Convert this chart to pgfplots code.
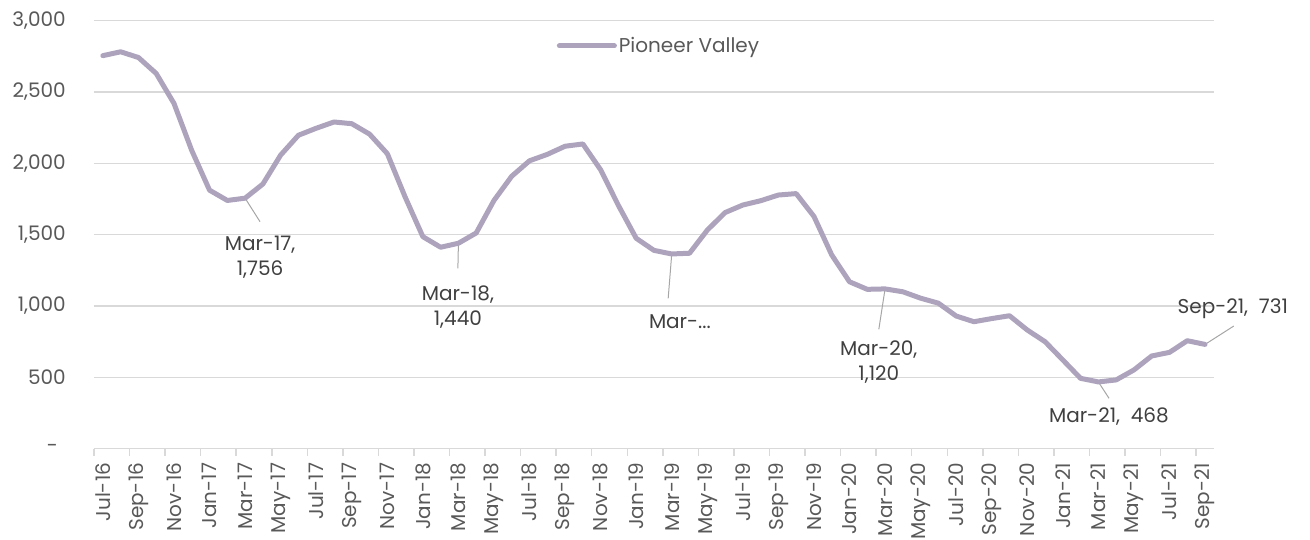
\documentclass[border=0pt]{standalone}
\usepackage{fontspec}
\setmainfont{Poppins}
\usepackage{pgfplots}
\pgfplotsset{compat=1.18}
\definecolor{linec}{HTML}{ADA3BD}
\definecolor{gridc}{HTML}{D9D9D9}
\definecolor{tickc}{HTML}{595959}
\definecolor{labc}{HTML}{404040}
\definecolor{leadc}{HTML}{A6A6A6}
\newcommand{\cf}{\fontsize{20}{25}\selectfont}
\newcommand{\zerolab}{\makebox[19pt][l]{-}}
\begin{document}
\begin{tikzpicture}[x=1pt,y=1pt]
\useasboundingbox (0,0) rectangle (1310,540);
\begin{axis}[
 at={(94pt,91.3pt)}, anchor=south west,
 scale only axis, width=1120pt, height=428pt,
 xmin=-0.5, xmax=62.5, ymin=0, ymax=3000,
 clip=false,
 axis x line*=bottom, axis y line*=left,
 y axis line style={draw=none},
 x axis line style={draw=gridc, line width=1.5pt},
 ytick={0,500,...,3000},
 yticklabels={{\zerolab},500,{1,000},{1,500},{2,000},{2,500},{3,000}},
 ymajorgrids, grid style={gridc, line width=1.5pt},
 ytick style={draw=none},
 yticklabel style={font=\cf, text=tickc, anchor=east, inner sep=0pt, xshift=-28pt},
 xtick={0,2,...,62},
 xticklabels={Jul-16,Sep-16,Nov-16,Jan-17,Mar-17,May-17,Jul-17,Sep-17,Nov-17,Jan-18,Mar-18,May-18,Jul-18,Sep-18,Nov-18,Jan-19,Mar-19,May-19,Jul-19,Sep-19,Nov-19,Jan-20,Mar-20,May-20,Jul-20,Sep-20,Nov-20,Jan-21,Mar-21,May-21,Jul-21,Sep-21},
 major tick length=0pt,
 minor xtick={-0.5,1.5,...,61.5},
 minor tick length=7pt,
 tick align=outside,
 minor x tick style={draw=gridc, line width=1.5pt},
 xticklabel style={rotate=90, anchor=east, font=\cf, text=tickc, inner sep=0pt},
 xticklabel shift=14pt,
 legend style={at={(0.5045,0.941)}, anchor=center, draw=none, fill=none, font=\cf, text=tickc},
 legend image code/.code={\draw[#1, line width=5pt, line cap=round] (0pt,0pt) -- (55pt,0pt);},
]
\draw[leadc, line width=1pt] (axis cs:8,1756) -- (axis cs:8.84,1591);
\draw[leadc, line width=1pt] (axis cs:20,1440) -- (axis cs:19.97,1264);
\draw[leadc, line width=1pt] (axis cs:32,1365) -- (axis cs:31.8,1054);
\draw[leadc, line width=1pt] (axis cs:44,1120) -- (axis cs:43.65,837);
\draw[leadc, line width=1pt] (axis cs:56,468) -- (axis cs:56.6,353);
\draw[leadc, line width=1pt] (axis cs:62,731) -- (axis cs:63.62,860);
\addplot[linec, line width=5pt, line join=round, line cap=round] table[x=i, y=v] {
i v
0 2755
1 2782
2 2742
3 2630
4 2420
5 2090
6 1812
7 1740
8 1756
9 1855
10 2058
11 2197
12 2246
13 2290
14 2278
15 2205
16 2068
17 1765
18 1486
19 1412
20 1440
21 1512
22 1740
23 1910
24 2018
25 2063
26 2120
27 2136
28 1955
29 1705
30 1475
31 1390
32 1365
33 1370
34 1532
35 1655
36 1708
37 1738
38 1778
39 1788
40 1628
41 1358
42 1170
43 1117
44 1120
45 1100
46 1055
47 1020
48 930
49 890
50 912
51 932
52 832
53 750
54 622
55 493
56 468
57 482
58 552
59 650
60 675
61 757
62 731
};
\addlegendentry{Pioneer Valley}
\node[align=center, font=\cf, text=labc] at (axis cs:8.84,1340) {Mar-17,\\1,756};
\node[align=center, font=\cf, text=labc] at (axis cs:19.97,995) {Mar-18,\\1,440};
\node[align=center, font=\cf, text=labc] at (axis cs:32.46,887) {Mar-...};
\node[align=center, font=\cf, text=labc] at (axis cs:43.65,610) {Mar-20,\\1,120};
\node[align=center, font=\cf, text=labc] at (axis cs:56.59,224) {Mar-21,\ \ 468};
\node[align=center, font=\cf, text=labc] at (axis cs:63.56,979) {Sep-21,\ \ 731};
\end{axis}
\end{tikzpicture}
\end{document}
